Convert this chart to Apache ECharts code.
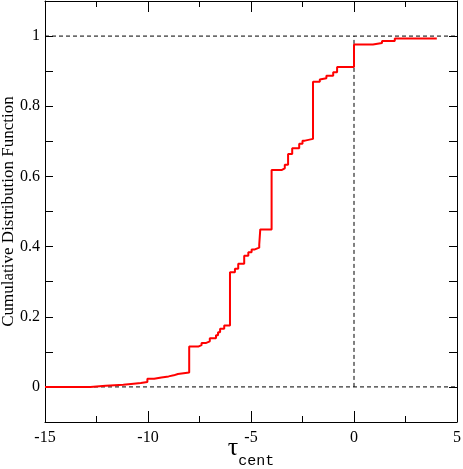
<!DOCTYPE html>
<html>
<head>
<meta charset="utf-8">
<script src="https://cdn.jsdelivr.net/npm/echarts@6/dist/echarts.min.js"></script>
</head>
<body style="margin:0;background:#fff">
<div id="myChart" style="width:463px;height:469px"></div>
<script>
// step positions of the empirical CDF and the value reached at each step
var cdfX = [-15, -12.8, -12.05, -11.2, -10.7, -10.35, -10.03, -9.7, -9.35, -9.0, -8.75, -8.55,
  -8.0, -7.56, -7.4, -7.2, -7.0, -6.7, -6.6, -6.5, -6.3,
  -6.02, -5.78, -5.62, -5.33, -5.13, -4.97, -4.81, -4.6, -4.55,
  -4.0, -3.52, -3.36, -3.2, -3.0, -2.66, -2.5, -2.38,
  -1.99, -1.66, -1.58, -1.34, -1.01, -0.82,
  0.0, 0.92, 1.36, 1.98, 4.02]
var cdfY = [0.000, 0.003, 0.006, 0.009, 0.011, 0.014, 0.023, 0.027, 0.030, 0.033, 0.037, 0.041,
  0.115, 0.119, 0.125, 0.130, 0.139, 0.147, 0.156, 0.166, 0.175,
  0.327, 0.337, 0.351, 0.374, 0.384, 0.392, 0.397, 0.406, 0.449,
  0.618, 0.623, 0.633, 0.664, 0.680, 0.693, 0.702, 0.707,
  0.870, 0.876, 0.880, 0.887, 0.897, 0.912,
  0.976, 0.980, 0.986, 0.993, 0.993]

// dashed guides: horizontal at 0 and 1, vertical at x = 0
var xRange = [-15, 5]
var guideY = [0, 1]
var guideX = 0

var serif = 'Liberation Serif'
var black = '#000'

var points = cdfX.map(function (x, i) { return [x, cdfY[i]] })

// only label every second tenth: 0, 0.2 ... 1
function yLabel (v) {
  var k = Math.round(v * 10)
  return (k >= 0 && k % 2 === 0) ? String(k / 10) : ''
}

function xAx (pos, labels) {
  return {
    type: 'value', position: pos, min: xRange[0], max: xRange[1], interval: 5,
    axisLine: { show: true, onZero: false, lineStyle: { color: black, width: 1 } },
    axisTick: { show: true, inside: true, length: 11, lineStyle: { color: black, width: 1 } },
    minorTick: { show: true, splitNumber: 2, length: 6, lineStyle: { color: black, width: 1 } },
    axisLabel: { show: labels, margin: 8, color: black, fontFamily: serif, fontSize: 16 },
    splitLine: { show: false }
  }
}

function yAx (pos, labels) {
  return {
    type: 'value', position: pos, min: -0.1, max: 1.1, interval: 0.1,
    axisLine: { show: true, onZero: false, lineStyle: { color: black, width: 1 } },
    axisTick: { show: true, inside: true, length: 8, lineStyle: { color: black, width: 1 } },
    axisLabel: { show: labels, margin: 5, color: black, fontFamily: serif, fontSize: 16, formatter: yLabel },
    splitLine: { show: false }
  }
}

var xAxes = [xAx('bottom', true), xAx('top', false)]
xAxes[0].name = '{t|τ}{s|cent}'
xAxes[0].nameLocation = 'middle'
xAxes[0].nameGap = 13
xAxes[0].nameMoveOverlap = false
xAxes[0].nameTextStyle = {
  rich: {
    t: { fontFamily: serif, fontSize: 26, color: black, padding: [0, 0, 8, 0] },
    s: { fontFamily: 'Liberation Mono', fontSize: 15, color: black, verticalAlign: 'bottom' }
  }
}

var yAxes = [yAx('left', true), yAx('right', false)]
yAxes[0].name = 'Cumulative Distribution Function'
yAxes[0].nameLocation = 'middle'
yAxes[0].nameGap = 28
yAxes[0].nameMoveOverlap = false
yAxes[0].nameTextStyle = { fontFamily: serif, fontSize: 17, color: black }

function guide (data) {
  return {
    type: 'line', data: data, symbol: 'none', silent: true, z: 1,
    lineStyle: { color: black, width: 1, type: [4, 3] }
  }
}

var series = guideY.map(function (v) {
  return guide([[xRange[0], v], [xRange[1], v]])
})
series.push(guide([[guideX, guideY[0]], [guideX, guideY[1]]]))
series.push({
  type: 'line',
  step: 'end',
  data: points,
  symbol: 'none',
  showSymbol: false,
  lineStyle: { color: '#ff0000', width: 2 },
  z: 5
})

var options = {
  animation: false,
  grid: { left: 45, right: 6, top: 1, bottom: 47, outerBoundsMode: 'none' },
  xAxis: xAxes,
  yAxis: yAxes,
  series: series
}

var myChart = echarts.init(document.getElementById('myChart'))
myChart.setOption(options)
</script>
</body>
</html>
